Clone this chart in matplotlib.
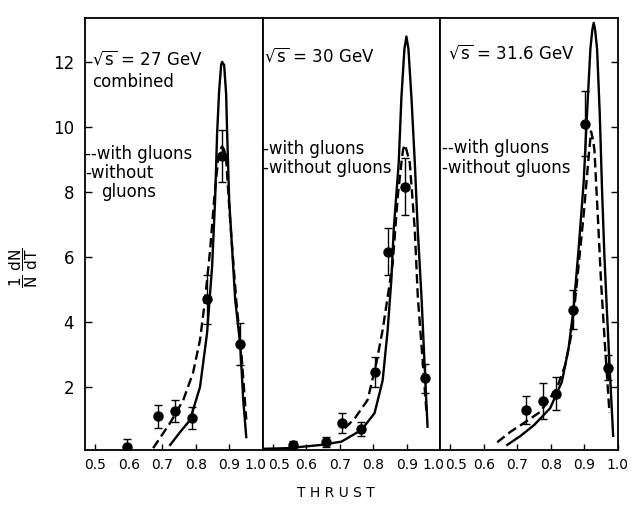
"""Thrust distributions at three CM energies, QCD with and without gluons."""
# values

import numpy as np
import matplotlib
matplotlib.use('Agg')
from matplotlib import pyplot as plt
from matplotlib.transforms import ScaledTranslation

plt.rcParams['font.family'] = 'DejaVu Sans'
plt.rcParams['mathtext.default'] = 'regular'

# --- sqrt(s) = 27 GeV, combined
t27_solid = [0.724, 0.754, 0.783, 0.813, 0.834, 0.849, 0.858, 0.864, 0.870, 0.876,
             0.879, 0.885, 0.891, 0.894, 0.900, 0.918, 0.933, 0.942, 0.951]
y27_solid = [0.22, 0.62, 0.98, 2.0, 3.66, 5.69, 7.75, 9.8, 11.1, 11.9,
             12.0, 11.9, 11.0, 9.8, 7.75, 4.68, 3.3, 1.6, 0.46]
t27_dash = [0.673, 0.724, 0.763, 0.792, 0.813, 0.828, 0.843, 0.855, 0.867, 0.873,
            0.879, 0.885, 0.891, 0.903, 0.921, 0.936, 0.951]
y27_dash = [0.12, 0.9, 1.6, 2.43, 3.45, 4.68, 6.2, 7.75, 9.0, 9.3,
            9.4, 9.3, 9.0, 7.1, 4.68, 3.1, 1.0]
t27_pts = [0.595, 0.688, 0.739, 0.789, 0.834, 0.879, 0.933]
y27_pts = [0.15, 1.1, 1.26, 1.05, 4.7, 9.1, 3.32]
e27_pts = [0.25, 0.35, 0.33, 0.33, 0.75, 0.8, 0.65]

# --- sqrt(s) = 30 GeV
t30_solid = [0.47, 0.545, 0.645, 0.705, 0.765, 0.804, 0.828, 0.843, 0.854, 0.861,
             0.876, 0.884, 0.893, 0.899, 0.905, 0.914, 0.924, 0.933, 0.944, 0.953, 0.962]
y30_solid = [0.1, 0.12, 0.22, 0.32, 0.68, 1.2, 2.2, 3.75, 5.3, 6.83,
             8.9, 10.9, 12.4, 12.78, 12.4, 10.9, 8.9, 6.8, 4.77, 2.73, 0.78]
t30_dash = [0.715, 0.745, 0.783, 0.809, 0.828, 0.843, 0.858, 0.873, 0.884, 0.889,
            0.894, 0.899, 0.909, 0.924, 0.933, 0.948, 0.959]
y30_dash = [0.73, 1.04, 1.6, 2.73, 3.75, 4.77, 5.8, 7.85, 8.9, 9.3,
            9.45, 9.3, 8.9, 6.83, 4.77, 2.73, 1.2]
t30_pts = [0.56, 0.66, 0.706, 0.763, 0.806, 0.843, 0.896, 0.954]
y30_pts = [0.22, 0.32, 0.89, 0.7, 2.47, 6.16, 8.16, 2.27]
e30_pts = [0.12, 0.15, 0.3, 0.22, 0.46, 0.72, 0.87, 0.44]

# --- sqrt(s) = 31.6 GeV
t31_solid = [0.67, 0.71, 0.75, 0.798, 0.833, 0.853, 0.868, 0.883, 0.898, 0.908,
             0.918, 0.924, 0.928, 0.932, 0.938, 0.946, 0.953, 0.960, 0.968, 0.976, 0.986]
y31_solid = [0.22, 0.5, 0.83, 1.35, 2.16, 3.2, 4.42, 6.27, 8.3, 10.4,
             12.4, 13.0, 13.2, 13.0, 12.4, 10.4, 8.0, 6.0, 4.2, 2.5, 0.5]
t31_dash = [0.64, 0.679, 0.719, 0.769, 0.818, 0.843, 0.863, 0.878, 0.898, 0.913,
            0.920, 0.926, 0.930, 0.940, 0.950, 0.962, 0.975]
y31_dash = [0.3, 0.62, 0.89, 1.24, 1.97, 2.68, 3.7, 5.24, 7.3, 9.1,
            9.86, 9.6, 9.3, 7.3, 5.2, 3.2, 1.2]
t31_pts = [0.727, 0.777, 0.816, 0.866, 0.903, 0.970]
y31_pts = [1.29, 1.57, 1.8, 4.37, 10.1, 2.6]
e31_pts = [0.44, 0.54, 0.5, 0.6, 1.0, 0.37]

titles = [r'$\sqrt{s}$ = 27 GeV', r'$\sqrt{s}$ = 30 GeV', r'$\sqrt{s}$ = 31.6 GeV']
x_ticks = [0.5, 0.6, 0.7, 0.8, 0.9, 1.0]
x_ticklabels = ['0.5', '0.6', '0.7', '0.8', '0.9', '1.0']
y_ticks = [2, 4, 6, 8, 10, 12]

panels = [
    (t27_solid, y27_solid, t27_dash, y27_dash, t27_pts, y27_pts, e27_pts),
    (t30_solid, y30_solid, t30_dash, y30_dash, t30_pts, y30_pts, e30_pts),
    (t31_solid, y31_solid, t31_dash, y31_dash, t31_pts, y31_pts, e31_pts),
]

fig, axes = plt.subplots(1, 3, figsize=(6.35, 5.15), dpi=100, sharey=True)
fig.subplots_adjust(left=0.134, right=0.973, top=0.965, bottom=0.126, wspace=0)

for i, (ax, p) in enumerate(zip(axes, panels)):
    ts, ys, td, yd, tp, yp, ep = p
    ax.plot(ts, ys, color='black', lw=1.7, solid_joinstyle='round')
    ax.plot(td, yd, color='black', lw=1.7, dashes=(4, 2))
    ax.errorbar(tp, yp, yerr=ep, fmt='o', color='black', ms=6.5,
                elinewidth=1.0, capsize=3, capthick=1.0)

    ax.set_xlim(0.47, 1.0)
    ax.set_ylim(0.06, 13.35)
    ax.set_xticks(x_ticks)
    ax.set_xticklabels(x_ticklabels, fontsize=10)
    for sp in ax.spines.values():
        sp.set_linewidth(1.3)
    ax.tick_params(axis='x', direction='in', length=4, width=1, pad=6)
    ax.tick_params(axis='y', direction='in', length=5, width=1, pad=8,
                   labelsize=12, left=(i == 0), right=(i == 2))

    # push the neighbouring "1.0" / "0.5" labels apart
    labs = ax.get_xticklabels()
    if i < 2:
        labs[-1].set_transform(labs[-1].get_transform()
                               + ScaledTranslation(-7 / 100, 0, fig.dpi_scale_trans))
    if i > 0:
        labs[0].set_transform(labs[0].get_transform()
                              + ScaledTranslation(6 / 100, 0, fig.dpi_scale_trans))

axes[0].set_yticks(y_ticks)

# panel annotations
axes[0].text(0.04, 0.905, titles[0], transform=axes[0].transAxes, fontsize=12, va='center')
axes[0].text(0.04, 0.853, 'combined', transform=axes[0].transAxes, fontsize=12, va='center')
axes[0].text(0.0, 0.685, '--with gluons', transform=axes[0].transAxes, fontsize=12, va='center')
axes[0].text(0.0, 0.642, '-without', transform=axes[0].transAxes, fontsize=12, va='center')
axes[0].text(0.09, 0.598, 'gluons', transform=axes[0].transAxes, fontsize=12, va='center')

axes[1].text(0.01, 0.912, titles[1], transform=axes[1].transAxes, fontsize=12, va='center')
axes[1].text(0.0, 0.697, '-with gluons', transform=axes[1].transAxes, fontsize=12, va='center')
axes[1].text(0.0, 0.652, '-without gluons', transform=axes[1].transAxes, fontsize=12, va='center')

axes[2].text(0.045, 0.918, titles[2], transform=axes[2].transAxes, fontsize=12, va='center')
axes[2].text(0.012, 0.699, '--with gluons', transform=axes[2].transAxes, fontsize=12, va='center')
axes[2].text(0.012, 0.653, '-without gluons', transform=axes[2].transAxes, fontsize=12, va='center')

fig.text(24 / 635, 1 - 268 / 515, r'$\dfrac{1}{N}\;\dfrac{dN}{dT}$', rotation=90,
         fontsize=11, ha='center', va='center')
fig.text(336 / 635, 1 - 493 / 515, 'T H R U S T', fontsize=10, ha='center', va='center')

fig.savefig('out.png', dpi=100)
